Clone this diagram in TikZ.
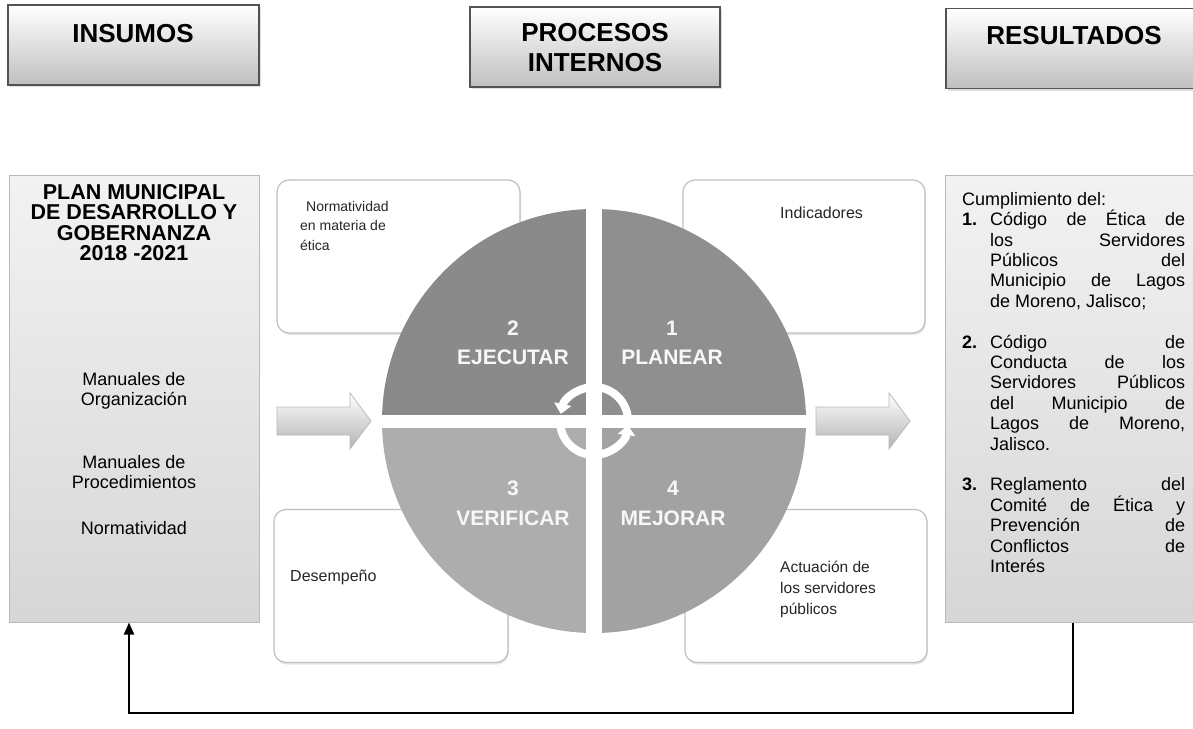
\documentclass[tikz,border=0pt]{standalone}
\usepackage{fontspec}
\setmainfont{Liberation Sans}
\usetikzlibrary{positioning,arrows.meta,shadows,calc}

\definecolor{quadA}{HTML}{8A8A8A}
\definecolor{quadB}{HTML}{8F8F8F}
\definecolor{quadC}{HTML}{ADADAD}
\definecolor{quadD}{HTML}{A2A2A2}

\newcommand{\jl}[1]{\makebox[195pt][s]{#1}}
\newcommand{\itemno}[1]{\makebox[28pt][l]{\bfseries #1}}
\newcommand{\ind}{\hspace*{28pt}}

\begin{document}
\begin{tikzpicture}[x=1pt,y=-1pt,
    hdrbox/.style={draw=gray!65!black, line width=1.3pt, top color=white, bottom color=gray!50,
      minimum height=80pt, drop shadow={opacity=0.25,shadow xshift=1.5pt,shadow yshift=-2pt}},
    hdrtext/.style={font=\fontsize{26}{30}\selectfont\bfseries, align=center, inner sep=0pt},
    colbox/.style={draw=gray!55, line width=1pt, top color=gray!10, bottom color=gray!32,
      minimum width=250pt, minimum height=447pt},
    stagebox/.style={draw=gray!50, line width=1.2pt, fill=white, rounded corners=12pt,
      minimum height=153pt, drop shadow={opacity=0.2,shadow xshift=1pt,shadow yshift=-2pt}},
    smalltxt/.style={font=\fontsize{16}{21}\selectfont, align=left, inner sep=0pt, text=black!85},
    quadlbl/.style={font=\fontsize{21}{24}\selectfont\bfseries, text=white!94!gray, inner sep=0pt},
    blockarrow/.style={draw=gray!55, line width=0.8pt, top color=white, bottom color=gray!60},
    cyc/.style={white, line width=8pt, -{Triangle[length=10pt,width=17pt]}},
    feedback/.style={line width=2pt, -{Triangle[length=12pt,width=10pt]}}
  ]
  \useasboundingbox (0,0) rectangle (1193,728);

  % column headers
  \node[hdrbox, minimum width=251pt] (insumosbox) at (133.5,45) {};
  \node[hdrbox, minimum width=250pt] (procesosbox) at (595,47) {};
  \node[hdrbox, minimum width=250pt] (resultadosbox) at (1071,48.5) {};
  \node[hdrtext] (insumos) at (133,34) {INSUMOS};
  \node[hdrtext] (procesos) at (595,48) {PROCESOS\\INTERNOS};
  \node[hdrtext] (resultados) at (1074,36) {RESULTADOS};

  % inputs and results
  \node[colbox] (plan) at (134,398.5) {};
  \node[colbox] (res) at (1070,398.5) {};

  \node[anchor=north, align=center, inner sep=0pt,
    font=\fontsize{21.5}{20.5}\selectfont\bfseries] (plantitle) at (134,184)
    {PLAN MUNICIPAL\\DE DESARROLLO Y\\GOBERNANZA\\2018 -2021};
  \node[align=center, inner sep=0pt, font=\fontsize{18}{19.5}\selectfont] (orga) at (134,391)
    {Manuales de\\Organización};
  \node[align=center, inner sep=0pt, font=\fontsize{18}{19.5}\selectfont] (proce) at (134,472)
    {Manuales de\\Procedimientos};
  \node[inner sep=0pt, font=\fontsize{18}{19.5}\selectfont] (normat) at (134,528) {Normatividad};

  \node[anchor=north west, align=left, inner sep=0pt, font=\fontsize{18}{20.4}\selectfont]
    (cumpl) at (962,192) {Cumplimiento del:\\
    \itemno{1.}\jl{Código de Ética de}\\
    \ind\jl{los Servidores}\\
    \ind\jl{Públicos del}\\
    \ind\jl{Municipio de Lagos}\\
    \ind de Moreno, Jalisco;\\[20.4pt]
    \itemno{2.}\jl{Código de}\\
    \ind\jl{Conducta de los}\\
    \ind\jl{Servidores Públicos}\\
    \ind\jl{del Municipio de}\\
    \ind\jl{Lagos de Moreno,}\\
    \ind Jalisco.\\[20.4pt]
    \itemno{3.}\jl{Reglamento del}\\
    \ind\jl{Comité de Ética y}\\
    \ind\jl{Prevención de}\\
    \ind\jl{Conflictos de}\\
    \ind Interés};

  % stage boxes behind the cycle
  \node[stagebox, minimum width=243pt] (normabox) at (398.5,256.5) {};
  \node[stagebox, minimum width=242pt] (indicbox) at (804,256.5) {};
  \node[stagebox, minimum width=234pt] (desembox) at (391,586) {};
  \node[stagebox, minimum width=242pt] (actuabox) at (806,586) {};

  \node[smalltxt, anchor=north west, font=\fontsize{14}{19.5}\selectfont] (norma) at (300,201)
    {\hspace*{6pt}Normatividad\\en materia de\\ética};
  \node[smalltxt, anchor=west] (indic) at (780,213) {Indicadores};
  \node[smalltxt, anchor=west] (desem) at (290,577) {Desempeño};
  \node[smalltxt, anchor=north west, font=\fontsize{15.5}{21}\selectfont] (actua) at (780,561)
    {Actuación de\\los servidores\\públicos};

  % PDCA cycle
  \coordinate (c) at (594,421);
  \begin{scope}
    \clip (c) circle (212);
    \fill[quadA] (370,200) rectangle (586,414.5);
    \fill[quadB] (602,200) rectangle (820,414.5);
    \fill[quadC] (370,427.5) rectangle (586,640);
    \fill[quadD] (602,427.5) rectangle (820,640);
  \end{scope}
  \draw[cyc] ($(c)+(-5:34)$) arc (-5:-168:34);
  \draw[cyc] ($(c)+(-190:34)$) arc (-190:-353:34);

  \node[quadlbl] (n2) at (513,328) {2};
  \node[quadlbl] (ejecutar) at (513,357) {EJECUTAR};
  \node[quadlbl] (n1) at (672,328) {1};
  \node[quadlbl] (planear) at (672,357) {PLANEAR};
  \node[quadlbl] (n3) at (513,488) {3};
  \node[quadlbl] (verificar) at (513,518) {VERIFICAR};
  \node[quadlbl] (n4) at (673,488) {4};
  \node[quadlbl] (mejorar) at (673,518) {MEJORAR};

  % flow arrows
  \draw[blockarrow] (277,407) -- (350,407) -- (350,393) -- (371,421) -- (350,449)
    -- (350,435) -- (277,435) -- cycle;
  \draw[blockarrow] (816,407) -- (889,407) -- (889,393) -- (910,421) -- (889,449)
    -- (889,435) -- (816,435) -- cycle;

  % feedback loop
  \draw[feedback] ([xshift=3pt]res.south) -- ([xshift=3pt]res.south |- 0,713)
    -| ([xshift=-5pt]plan.south);
\end{tikzpicture}
\end{document}
